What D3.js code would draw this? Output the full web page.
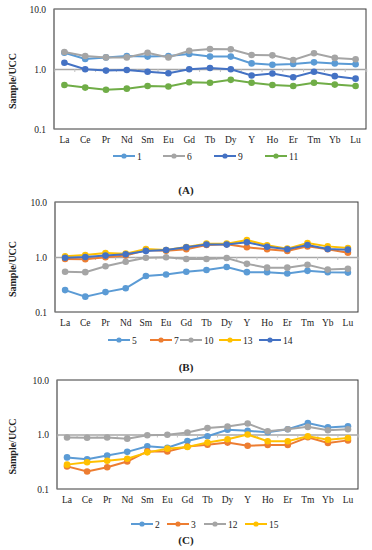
<!DOCTYPE html>
<html>
<head>
<meta charset="utf-8">
<script src="https://cdn.jsdelivr.net/npm/d3@7"></script>
<style>
  body { margin: 0; background: #fff; }
  svg { display: block; }
  text { font-family: "Liberation Serif", "Times New Roman", serif; fill: #222; }
</style>
</head>
<body>
<svg id="chart" width="372" height="550"></svg>
<script>
// REE elements on the x axis
const elements = ["La","Ce","Pr","Nd","Sm","Eu","Gd","Tb","Dy","Y","Ho","Er","Tm","Yb","Lu"];
const yTicks = [0.1, 1, 10];

// panel A
const s1  = [1.87,1.47,1.56,1.65,1.61,1.65,1.78,1.61,1.61,1.24,1.18,1.21,1.29,1.24,1.20];
const s6  = [1.92,1.65,1.56,1.56,1.87,1.56,2.02,2.15,2.13,1.71,1.69,1.41,1.83,1.53,1.45];
const s9  = [1.27,0.99,0.94,0.96,0.90,0.85,0.99,1.04,0.99,0.78,0.84,0.73,0.90,0.76,0.69];
const s11 = [0.54,0.49,0.45,0.47,0.52,0.51,0.60,0.59,0.66,0.59,0.54,0.52,0.59,0.55,0.52];

// panel B
const s5  = [0.25,0.19,0.23,0.27,0.45,0.48,0.54,0.58,0.66,0.53,0.53,0.50,0.56,0.53,0.52];
const s7  = [0.92,0.91,0.99,1.06,1.34,1.30,1.38,1.65,1.70,1.50,1.38,1.29,1.56,1.38,1.20];
const s10 = [0.54,0.53,0.68,0.82,0.97,0.99,0.92,0.92,0.96,0.75,0.64,0.64,0.72,0.59,0.61];
const s13 = [1.03,1.09,1.18,1.15,1.40,1.34,1.52,1.75,1.75,2.04,1.63,1.42,1.80,1.56,1.46];
const s14 = [0.97,1.00,1.06,1.12,1.29,1.34,1.50,1.68,1.68,1.85,1.54,1.38,1.65,1.40,1.36];

// panel C
const s2  = [0.38,0.35,0.41,0.48,0.61,0.57,0.76,0.93,1.22,1.17,1.10,1.25,1.62,1.35,1.42];
const s3  = [0.26,0.21,0.25,0.32,0.49,0.49,0.60,0.65,0.71,0.62,0.64,0.64,0.89,0.70,0.78];
const s12 = [0.88,0.87,0.88,0.84,0.97,0.99,1.09,1.31,1.40,1.59,1.15,1.25,1.38,1.20,1.25];
const s15 = [0.28,0.31,0.33,0.36,0.47,0.55,0.59,0.71,0.82,1.00,0.75,0.75,0.93,0.80,0.86];

const blue = "#5b9bd5", orange = "#ed7d31", gray = "#a5a5a5",
      yellow = "#ffc000", dblue = "#4472c4", green = "#70ad47";

const panels = [
  { caption: "(A)", left: 54, right: 366, top: 9, bottom: 129, legendY: 156, capY: 194,
    series: [
      { name: "1", values: s1, color: blue, lx: 113 },
      { name: "6", values: s6, color: gray, lx: 163 },
      { name: "9", values: s9, color: dblue, lx: 214 },
      { name: "11", values: s11, color: green, lx: 265 }
    ] },
  { caption: "(B)", left: 55, right: 358, top: 202, bottom: 312, legendY: 340, capY: 371,
    series: [
      { name: "5", values: s5, color: blue, lx: 108 },
      { name: "7", values: s7, color: orange, lx: 150 },
      { name: "10", values: s10, color: gray, lx: 180 },
      { name: "13", values: s13, color: yellow, lx: 219 },
      { name: "14", values: s14, color: dblue, lx: 259 }
    ] },
  { caption: "(C)", left: 57, right: 358, top: 380, bottom: 489, legendY: 524, capY: 544,
    series: [
      { name: "2", values: s2, color: blue, lx: 131 },
      { name: "3", values: s3, color: orange, lx: 167 },
      { name: "12", values: s12, color: gray, lx: 204 },
      { name: "15", values: s15, color: yellow, lx: 245 }
    ] }
];

const svg = d3.select("#chart");

panels.forEach(function(p) {
  const x = d3.scaleBand().domain(elements).range([p.left, p.right]);
  const y = d3.scaleLog().domain([0.1, 10]).range([p.bottom, p.top]);
  const g = svg.append("g");

  // frame
  g.append("rect")
    .attr("x", p.left).attr("y", p.top)
    .attr("width", p.right - p.left).attr("height", p.bottom - p.top)
    .attr("fill", "none").attr("stroke", "#3a3a3a").attr("stroke-width", 1);

  // y axis (gray line on left) with labels
  g.append("line")
    .attr("x1", p.left).attr("x2", p.left)
    .attr("y1", p.top).attr("y2", p.bottom)
    .attr("stroke", "#8c8c8c").attr("stroke-width", 1.2);
  g.selectAll(".ytick").data(yTicks).enter().append("text")
    .attr("x", p.left - 8).attr("y", function(d) { return y(d) + 3.5; })
    .attr("text-anchor", "end").attr("font-size", 9.5)
    .text(function(d) { return d3.format(".1f")(d); });

  // category axis crossing at 1.0
  const xAxis = g.append("g")
    .attr("transform", "translate(0," + y(1) + ")")
    .call(d3.axisBottom(x).tickSize(3).tickFormat(""));
  xAxis.select(".domain").attr("stroke", "#a6a6a6").attr("stroke-width", 1.3);
  xAxis.selectAll(".tick line")
    .attr("stroke", "#c0c0c0")
    .attr("transform", "translate(" + (x.bandwidth() / 2) + ",0)");

  // category labels under the plot
  g.selectAll(".xlab").data(elements).enter().append("text")
    .attr("x", function(d) { return x(d) + x.bandwidth() / 2; })
    .attr("y", p.bottom + 14)
    .attr("text-anchor", "middle").attr("font-size", 9.5)
    .text(function(d) { return d; });

  // y title
  g.append("text")
    .attr("transform", "translate(" + 16 + "," + ((p.top + p.bottom) / 2 + 12) + ") rotate(-90)")
    .attr("text-anchor", "middle").attr("font-size", 10).attr("font-weight", "bold")
    .text("Sample/UCC");

  const line = d3.line()
    .x(function(d, i) { return x(elements[i]) + x.bandwidth() / 2; })
    .y(function(d) { return y(d); });

  p.series.forEach(function(s) {
    g.append("path")
      .datum(s.values)
      .attr("d", line)
      .attr("fill", "none").attr("stroke", s.color).attr("stroke-width", 2);
    g.selectAll(null).data(s.values).enter().append("circle")
      .attr("cx", function(d, i) { return x(elements[i]) + x.bandwidth() / 2; })
      .attr("cy", function(d) { return y(d); })
      .attr("r", 3.3).attr("fill", s.color);
  });

  // legend
  p.series.forEach(function(s) {
    const lg = g.append("g");
    lg.append("line")
      .attr("x1", s.lx).attr("x2", s.lx + 22)
      .attr("y1", p.legendY).attr("y2", p.legendY)
      .attr("stroke", s.color).attr("stroke-width", 2);
    lg.append("circle")
      .attr("cx", s.lx + 11).attr("cy", p.legendY).attr("r", 2.6).attr("fill", s.color);
    lg.append("text")
      .attr("x", s.lx + 24).attr("y", p.legendY + 3.5)
      .attr("font-size", 9.5).text(s.name);
  });

  // caption
  svg.append("text")
    .attr("x", 186).attr("y", p.capY)
    .attr("text-anchor", "middle").attr("font-size", 11).attr("font-weight", "bold")
    .text(p.caption);
});
</script>
</body>
</html>
